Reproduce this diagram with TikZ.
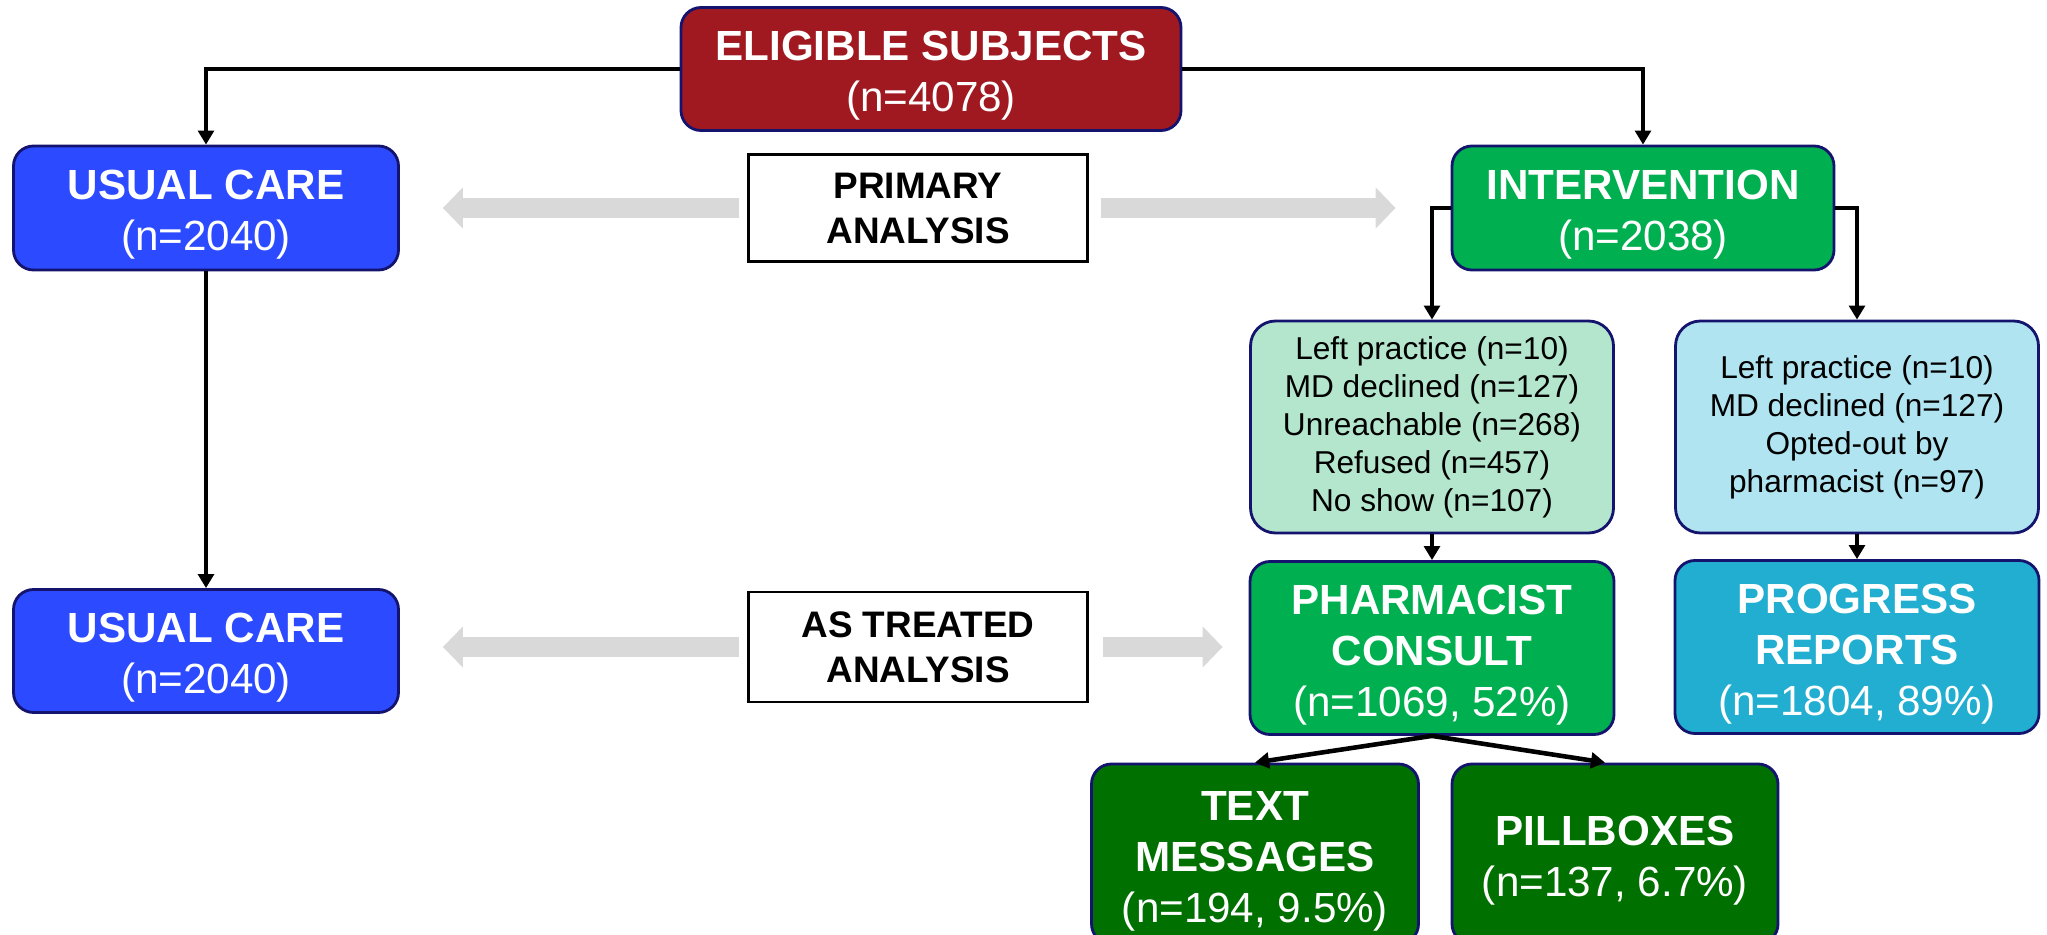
\documentclass[tikz,border=0pt]{standalone}
\usepackage{fontspec}
\setmainfont{Liberation Sans}
\usetikzlibrary{arrows.meta}

\definecolor{eligred}{RGB}{160,25,32}
\definecolor{usualblue}{RGB}{44,74,255}
\definecolor{intgreen}{RGB}{0,176,80}
\definecolor{palegreen}{RGB}{179,230,204}
\definecolor{paleblue}{RGB}{176,228,240}
\definecolor{progblue}{RGB}{33,174,208}
\definecolor{darkgreen}{RGB}{0,112,0}
\definecolor{bordernavy}{RGB}{20,20,110}
\definecolor{arrowgray}{RGB}{217,217,217}

\newcommand*{\bigfont}{\fontsize{12}{14.5}\selectfont}
\newcommand*{\smallfont}{\fontsize{9}{10.8}\selectfont}
\newcommand*{\topstrut}{\rule{0pt}{12.3pt}}

\begin{document}
\begin{tikzpicture}
[
	x=0.1mm, y=-0.1mm,
	rbox/.style={draw=bordernavy,line width=0.8pt,rounded corners=2mm,align=center,inner sep=0pt,text=white,font=\bigfont},
	pale/.style={rbox,rounded corners=2.5mm,text=black,font=\smallfont,minimum width=36.3mm,minimum height=21.2mm},
	lbox/.style={draw=black,line width=0.8pt,fill=white,align=center,inner sep=0pt,minimum width=33.9mm,font=\fontsize{10.5}{12.8}\selectfont\bfseries},
	conn/.style={line width=1.3pt,-{Triangle[width=4.5pt,length=4pt]}},
	wide/.style={draw=arrowgray,line width=2mm,-{Triangle[width=4mm,length=2mm]}}
]

	\clip (0,0) rectangle (2047,935);

	% eligible
	\node[rbox,fill=eligred,minimum width=50mm,minimum height=12.3mm] at (931,69) (elig) {\topstrut\textbf{ELIGIBLE SUBJECTS}\\(n=4078)};

	% first row
	\node[rbox,fill=usualblue,minimum width=38.5mm,minimum height=12.4mm] at (206,208) (usual1) {\topstrut\textbf{USUAL CARE}\\(n=2040)};
	\node[lbox,minimum height=10.7mm] at (918,208) (primary) {PRIMARY\\ANALYSIS};
	\node[rbox,fill=intgreen,minimum width=38.2mm,minimum height=12.4mm] at (1643,208) (interv) {\topstrut\textbf{INTERVENTION}\\(n=2038)};

	% losses
	\node[pale,fill=palegreen] at (1432,427) (lost1) {Left practice (n=10)\\MD declined (n=127)\\Unreachable (n=268)\\Refused (n=457)\\No show (n=107)};
	\node[pale,fill=paleblue] at (1857,427) (lost2) {Left practice (n=10)\\MD declined (n=127)\\Opted-out by\\pharmacist (n=97)};

	% second row
	\node[rbox,fill=usualblue,minimum width=38.5mm,minimum height=12.3mm] at (206,651) (usual2) {\topstrut\textbf{USUAL CARE}\\(n=2040)};
	\node[lbox,minimum height=11mm] at (918,647) (treated) {AS TREATED\\ANALYSIS};
	\node[rbox,fill=intgreen,minimum width=36.4mm,minimum height=17.3mm] at (1432,648) (consult) {\topstrut\textbf{PHARMACIST}\\\textbf{CONSULT}\\(n=1069, 52\%)};
	\node[rbox,fill=progblue,minimum width=36.4mm,minimum height=17.3mm] at (1857,647) (reports) {\topstrut\textbf{PROGRESS}\\\textbf{REPORTS}\\(n=1804, 89\%)};

	% third row
	\node[rbox,fill=darkgreen,minimum width=32.7mm,minimum height=18mm] at (1255,854) (texts) {\topstrut\textbf{TEXT}\\\textbf{MESSAGES}\\(n=194, 9.5\%)};
	\node[rbox,fill=darkgreen,minimum width=32.6mm,minimum height=18mm] at (1615,854) (pills) {\topstrut\textbf{PILLBOXES}\\(n=137, 6.7\%)};

	% black arrows
	\draw[conn] (elig.west) -| (usual1.north);
	\draw[conn] (elig.east) -| (interv.north);
	\draw[conn] (interv.west) -| (lost1.north);
	\draw[conn] (interv.east) -| (lost2.north);
	\draw[conn] (usual1.south) -- (usual2.north);
	\draw[conn] (lost1.south) -- (consult.north);
	\draw[conn] (lost2.south) -- (reports.north);
	\draw[conn] (consult.south) -- (texts.north);
	\draw[conn] (consult.south) -- ([xshift=-1mm]pills.north);

	% gray arrows
	\draw[wide,shorten <=0.8mm,shorten >=4.3mm] (primary.west) -- (primary.west -| usual1.east);
	\draw[wide,shorten <=1.2mm,shorten >=5.5mm] (primary.east) -- (primary.east -| interv.west);
	\draw[wide,shorten <=0.8mm,shorten >=4.3mm] (treated.west) -- (treated.west -| usual2.east);
	\draw[wide,shorten <=1.4mm,shorten >=2.6mm] (treated.east) -- (treated.east -| consult.west);

\end{tikzpicture}
\end{document}
